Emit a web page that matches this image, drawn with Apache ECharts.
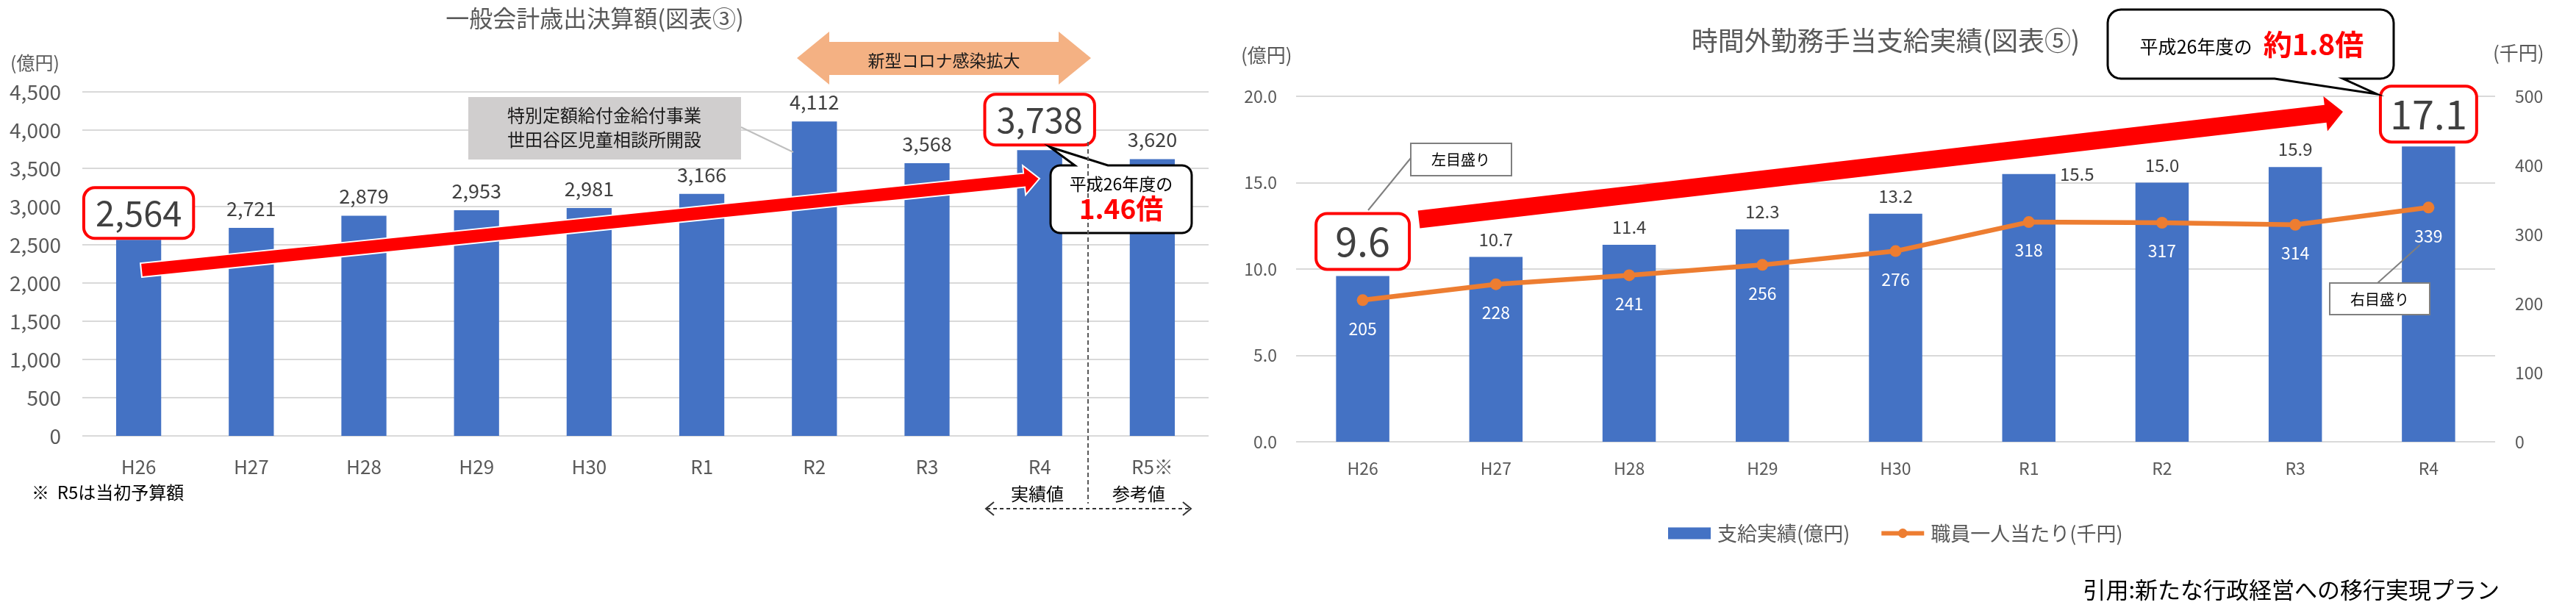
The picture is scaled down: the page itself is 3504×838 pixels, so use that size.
<!DOCTYPE html>
<html><head><meta charset="utf-8">
<script src="https://cdn.jsdelivr.net/npm/echarts@6/dist/echarts.min.js"></script>
<style>html,body{margin:0;padding:0;background:#fff}#c{width:3504px;height:838px}</style>
</head><body><div id="c"></div>
<script>
const FONT = '"Noto Sans CJK JP", "Noto Sans", sans-serif';

// ---- Left chart: 一般会計歳出決算額 ----
const budgetCategories = ['H26','H27','H28','H29','H30','R1','R2','R3','R4','R5※'];
const budgetValues = [2564, 2721, 2879, 2953, 2981, 3166, 4112, 3568, 3738, 3620];
const budgetAxis = { min: 0, max: 4500, interval: 500 };

// ---- Right chart: 時間外勤務手当支給実績 ----
const overtimeCategories = ['H26','H27','H28','H29','H30','R1','R2','R3','R4'];
const overtimeTotal = [9.6, 10.7, 11.4, 12.3, 13.2, 15.5, 15.0, 15.9, 17.1];
const overtimePerStaff = [205, 228, 241, 256, 276, 318, 317, 314, 339];
const overtimeLeftAxis = { min: 0, max: 20, interval: 5 };
const overtimeRightAxis = { min: 0, max: 500, interval: 100 };

const BLUE = '#4472c4', ORANGE = '#ed7d31', AX = '#595959', LBL = '#404040', GRID = '#d9d9d9';
const comma = v => Number(v).toLocaleString('en-US');

function boxLabel(fs, pad, dist) {
  return { fontSize: fs, lineHeight: fs + 6, color: LBL, borderColor: '#ff0000', borderWidth: 4,
           borderRadius: 13, padding: pad, distance: dist, backgroundColor: '#fff' };
}
const budgetData = budgetValues.map((v, i) => {
  if (i === 0) return { value: v, label: boxLabel(47, [6, 14, 6, 14], 4) };
  if (i === 8) return { value: v, label: boxLabel(47, [6, 14, 6, 14], 9) };
  return v;
});
const totalData = overtimeTotal.map((v, i) => {
  if (i === 0) return { value: v, label: boxLabel(54, [6, 24, 6, 24], 11) };
  if (i === 8) return { value: v, label: boxLabel(54, [6, 11, 6, 11], 8) };
  if (i === 5) return { value: v, label: { position: ['100%', 0], align: 'left', verticalAlign: 'middle', offset: [6, 0] } };
  return v;
});

function arrowPts(x0, y0, x1, y1, hw, hl, hh) {
  const dx = x1 - x0, dy = y1 - y0, L = Math.hypot(dx, dy), ux = dx / L, uy = dy / L, nx = -uy, ny = ux;
  const bx = x1 - ux * hl, by = y1 - uy * hl;
  return [[x0 + nx * hw, y0 + ny * hw], [bx + nx * hw, by + ny * hw], [bx + nx * hh, by + ny * hh], [x1, y1],
          [bx - nx * hh, by - ny * hh], [bx - nx * hw, by - ny * hw], [x0 - nx * hw, y0 - ny * hw]];
}
// rounded-rect outline (clockwise from top-left) with optional pointer on top or bottom edge
function bubblePts(x0, y0, x1, y1, r, ptr) {
  const pts = [];
  const arc = (cx, cy, a0, a1) => { for (let k = 0; k <= 6; k++) { const a = a0 + (a1 - a0) * k / 6; pts.push([cx + r * Math.cos(a), cy + r * Math.sin(a)]); } };
  const P = Math.PI;
  arc(x0 + r, y0 + r, P, 1.5 * P);
  if (ptr && ptr.edge === 'top') { pts.push([ptr.a, y0], ptr.tip, [ptr.b, y0]); }
  arc(x1 - r, y0 + r, 1.5 * P, 2 * P);
  arc(x1 - r, y1 - r, 0, 0.5 * P);
  if (ptr && ptr.edge === 'bottom') { pts.push([ptr.b, y1], ptr.tip, [ptr.a, y1]); }
  arc(x0 + r, y1 - r, 0.5 * P, P);
  return pts;
}
function txt(text, x, y, size, color, align, weight, va) {
  return { type: 'text', z: 120, style: { text: text, x: x, y: y, fill: color || '#000',
    font: (weight || 'normal') + ' ' + size + 'px ' + FONT,
    align: align || 'center', textAlign: align || 'center', verticalAlign: va || 'middle', textVerticalAlign: va || 'middle' } };
}
function line(x1, y1, x2, y2, color, w, dash) {
  return { type: 'line', z: 110, shape: { x1: x1, y1: y1, x2: x2, y2: y2 },
           style: { stroke: color, lineWidth: w, lineDash: dash || null } };
}

const graphics = [
  txt('一般会計歳出決算額(図表③)', 809, 25, 32, AX),
  txt('時間外勤務手当支給実績(図表⑤)', 2565, 55, 36, AX),
  txt('(億円)', 14, 85, 25, AX, 'left'),
  txt('(億円)', 1688, 75, 26, AX, 'left'),
  txt('(千円)', 3391, 72, 26, AX, 'left'),
  // gray note box
  { type: 'rect', z: 105, shape: { x: 637, y: 132, width: 371, height: 85 }, style: { fill: '#d0cece' } },
  txt('特別定額給付金給付事業', 822, 157, 24, '#1a1a1a'),
  txt('世田谷区児童相談所開設', 822, 190, 24, '#1a1a1a'),
  line(1008, 173, 1079, 207, '#bfbfbf', 2),
  // orange double arrow
  { type: 'polygon', z: 105, shape: { points: [[1084,79],[1128,43],[1128,57],[1440,57],[1440,43],[1484,79],[1440,115],[1440,102],[1128,102],[1128,115]] },
    style: { fill: '#f4b183' } },
  txt('新型コロナ感染拡大', 1284, 82, 23, '#1a1a1a'),
  // left red arrow
  { type: 'polygon', z: 106, shape: { points: arrowPts(192, 367.5, 1414, 243, 9.5, 21, 20) },
    style: { fill: '#ff0000', stroke: '#fff', lineWidth: 2 } },
  // left speech bubble
  { type: 'polygon', z: 107, shape: { points: bubblePts(1429, 225, 1621, 317, 13, { edge: 'top', a: 1462, b: 1507, tip: [1428, 200] }) },
    style: { fill: '#fff', stroke: '#000', lineWidth: 3 } },
  txt('平成26年度の', 1525, 250, 23, '#000'),
  txt('1.46倍', 1525, 284, 37, '#ff0000', 'center', 'bold'),
  // dashed separators
  line(1480, 193, 1480, 685, AX, 2, [6, 4]),
  line(1342, 692, 1618, 692, '#333', 2, [5, 4]),
  { type: 'polyline', z: 110, shape: { points: [[1352,683],[1341,692],[1352,701]] }, style: { stroke: '#333', lineWidth: 2, fill: null } },
  { type: 'polyline', z: 110, shape: { points: [[1609,683],[1620,692],[1609,701]] }, style: { stroke: '#333', lineWidth: 2, fill: null } },
  txt('実績値', 1411, 672, 24, '#000'),
  txt('参考値', 1549, 672, 24, '#000'),
  txt('※  R5は当初予算額', 43, 670, 24, '#000', 'left'),
  // right red arrow
  { type: 'polygon', z: 106, shape: { points: arrowPts(1930, 298.5, 3187, 152, 12, 24, 24) },
    style: { fill: '#ff0000' } },
  // right speech bubble
  { type: 'polygon', z: 107, shape: { points: bubblePts(2867, 13, 3256, 107, 18, { edge: 'bottom', a: 3094, b: 3187, tip: [3233, 128] }) },
    style: { fill: '#fff', stroke: '#000', lineWidth: 3 } },
  txt('平成26年度の', 2987, 63, 25, '#000'),
  txt('約1.8倍', 3147, 60, 39, '#ff0000', 'center', 'bold'),
  // scale callouts
  { type: 'rect', z: 108, shape: { x: 1919, y: 195, width: 137, height: 44 }, style: { fill: '#fff', stroke: '#7f7f7f', lineWidth: 2 } },
  txt('左目盛り', 1987, 217, 20, '#000'),
  line(1919, 215, 1861, 286, '#7f7f7f', 2),
  { type: 'rect', z: 108, shape: { x: 3169, y: 385, width: 136, height: 43 }, style: { fill: '#fff', stroke: '#7f7f7f', lineWidth: 2 } },
  txt('右目盛り', 3237, 407, 20, '#000'),
  line(3234, 385, 3292, 333, '#7f7f7f', 2),
  // source
  txt('引用:新たな行政経営への移行実現プラン', 3400, 802, 31, '#000', 'right')
];

const chart = echarts.init(document.getElementById('c'));
chart.setOption({
  animation: false,
  backgroundColor: '#fff',
  textStyle: { fontFamily: FONT },
  grid: [
    { left: 112, right: 1860, top: 125, bottom: 245 },
    { left: 1763, right: 110, top: 131, bottom: 237 }
  ],
  legend: {
    left: 2264, top: 707, itemWidth: 58, itemHeight: 16, itemGap: 40, selectedMode: false,
    textStyle: { fontSize: 27, color: AX, fontFamily: FONT, padding: [0, 0, 0, 4] },
    data: [
      { name: '支給実績(億円)', icon: 'rect', itemStyle: { color: BLUE } },
      { name: '職員一人当たり(千円)', lineStyle: { width: 6, color: ORANGE }, itemStyle: { color: ORANGE } }
    ]
  },
  xAxis: [
    { type: 'category', gridIndex: 0, data: budgetCategories, axisLine: { show: false }, axisTick: { show: false },
      axisLabel: { fontSize: 26, color: AX, margin: 29, fontFamily: FONT } },
    { type: 'category', gridIndex: 1, data: overtimeCategories, axisLine: { show: false }, axisTick: { show: false },
      axisLabel: { fontSize: 23, color: AX, margin: 25, fontFamily: FONT } }
  ],
  yAxis: [
    { type: 'value', gridIndex: 0, min: budgetAxis.min, max: budgetAxis.max, interval: budgetAxis.interval,
      axisLine: { show: false }, axisTick: { show: false },
      axisLabel: { fontSize: 28, color: AX, margin: 29, formatter: v => comma(v), fontFamily: FONT },
      splitLine: { lineStyle: { color: GRID, width: 2 } } },
    { type: 'value', gridIndex: 1, min: overtimeLeftAxis.min, max: overtimeLeftAxis.max, interval: overtimeLeftAxis.interval,
      axisLine: { show: false }, axisTick: { show: false },
      axisLabel: { fontSize: 23, color: AX, margin: 26, formatter: v => v.toFixed(1), fontFamily: FONT },
      splitLine: { lineStyle: { color: GRID, width: 2 } } },
    { type: 'value', gridIndex: 1, position: 'right', min: overtimeRightAxis.min, max: overtimeRightAxis.max, interval: overtimeRightAxis.interval,
      axisLine: { show: false }, axisTick: { show: false }, splitLine: { show: false },
      axisLabel: { fontSize: 23, color: AX, margin: 27, fontFamily: FONT } }
  ],
  series: [
    { type: 'bar', name: '一般会計歳出決算額', xAxisIndex: 0, yAxisIndex: 0, barWidth: '40%',
      itemStyle: { color: BLUE },
      label: { show: true, position: 'top', distance: 13, fontSize: 27, color: LBL, fontFamily: FONT, formatter: p => comma(p.value) },
      data: budgetData },
    { type: 'bar', name: '支給実績(億円)', xAxisIndex: 1, yAxisIndex: 1, barWidth: '40%',
      itemStyle: { color: BLUE },
      label: { show: true, position: 'top', distance: 12, fontSize: 24, color: LBL, fontFamily: FONT, formatter: p => Number(p.value).toFixed(1) },
      data: totalData },
    { type: 'line', name: '職員一人当たり(千円)', xAxisIndex: 1, yAxisIndex: 2, z: 5,
      symbol: 'circle', symbolSize: 16, lineStyle: { color: ORANGE, width: 6.5 }, itemStyle: { color: ORANGE },
      label: { show: true, position: 'bottom', distance: 19, fontSize: 23, color: '#fff', fontFamily: FONT },
      data: overtimePerStaff }
  ],
  graphic: { elements: graphics }
});
</script>
</body></html>
